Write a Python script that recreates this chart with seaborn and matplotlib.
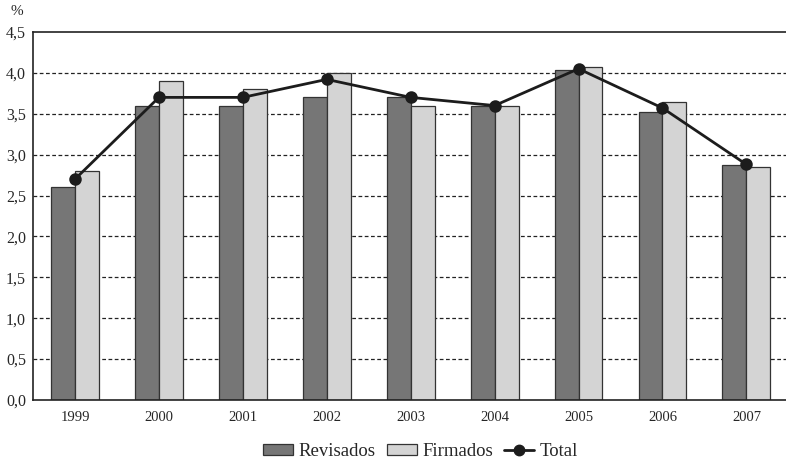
import numpy as np
import pandas as pd
import matplotlib
matplotlib.use("Agg")
import matplotlib.pyplot as plt
from matplotlib.patches import Patch
from matplotlib.lines import Line2D
import seaborn as sns

years = ["1999", "2000", "2001", "2002", "2003", "2004", "2005", "2006", "2007"]
revisados = [2.6, 3.6, 3.6, 3.7, 3.7, 3.6, 4.03, 3.52, 2.87]
firmados = [2.8, 3.9, 3.8, 4.0, 3.6, 3.6, 4.07, 3.64, 2.85]
total = [2.7, 3.7, 3.7, 3.92, 3.7, 3.6, 4.05, 3.57, 2.88]
y_ticks = [0.0, 0.5, 1.0, 1.5, 2.0, 2.5, 3.0, 3.5, 4.0, 4.5]

sns.set_style("white")
plt.rcParams["font.family"] = ["Liberation Serif", "DejaVu Serif"]

dark = "#767676"
light = "#d4d4d4"
ink = "#1c1c1c"

df = pd.DataFrame({
    "year": years * 2,
    "value": revisados + firmados,
    "serie": ["Revisados"] * len(years) + ["Firmados"] * len(years),
})

fig = plt.figure(figsize=(7.86, 4.63), dpi=100)
ax = fig.add_axes([0.042, 0.136, 0.961, 0.795])

# gridlines behind the bars
for v in y_ticks[1:-1]:
    ax.axhline(v, color="#222222", lw=0.9, ls=(0, (3, 2)), zorder=0)

sns.barplot(data=df, x="year", y="value", hue="serie", order=years,
            hue_order=["Revisados", "Firmados"], palette=[dark, light],
            width=0.57, gap=0, saturation=1, edgecolor="#333333",
            linewidth=0.9, legend=False, ax=ax, zorder=2)

sns.pointplot(x=years, y=total, order=years, color=ink, markers="o",
              markersize=7.5, linewidth=2, ax=ax, zorder=4)

ax.set_xlim(-0.5, 8.5)
ax.set_ylim(0, 4.5)
ax.set_yticks(y_ticks)
ax.set_yticklabels([f"{v:.1f}".replace(".", ",") for v in y_ticks], fontsize=11.5)
ax.set_xticks(range(len(years)))
ax.set_xticklabels(years, fontsize=10.5)
ax.set_xticks(np.arange(0.5, len(years) - 0.5, 1), minor=True)
ax.tick_params(axis="x", which="major", length=0, pad=8)
ax.tick_params(axis="x", which="minor", length=3, width=0.8, direction="out", color="#333333")
ax.tick_params(axis="y", length=3, width=0.8, direction="out", color="#333333", pad=2)
ax.set_xlabel("")
ax.set_ylabel("")

for side in ["left", "bottom", "top"]:
    ax.spines[side].set_visible(True)
    ax.spines[side].set_color("#222222")
    ax.spines[side].set_linewidth(1.2)
ax.spines["right"].set_visible(False)

fig.text(0.013, 0.975, "%", fontsize=11, ha="left", va="center")

handles = [
    Patch(facecolor=dark, edgecolor="#333333", linewidth=0.9, label="Revisados"),
    Patch(facecolor=light, edgecolor="#333333", linewidth=0.9, label="Firmados"),
    Line2D([0], [0], color=ink, lw=2, marker="o", markersize=7.5, label="Total"),
]
fig.legend(handles=handles, loc="center", bbox_to_anchor=(0.535, 0.025), ncol=3,
           frameon=False, fontsize=13.5, handlelength=1.6, handleheight=0.5,
           handletextpad=0.3, columnspacing=0.6)

fig.savefig("out.png", dpi=100)
